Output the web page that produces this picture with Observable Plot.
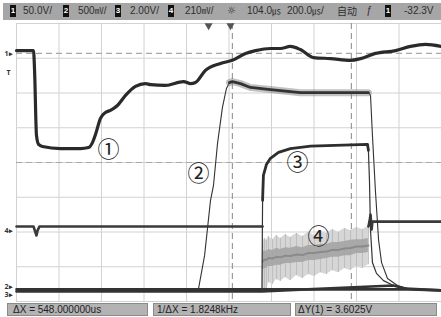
<!DOCTYPE html>
<html><head><meta charset="utf-8">
<script src="https://cdn.jsdelivr.net/npm/d3@7"></script>
<script src="https://cdn.jsdelivr.net/npm/@observablehq/plot@0.6"></script>
<style>
body{margin:0;background:#fff;}
#wrap{position:relative;width:441px;height:317px;overflow:hidden;font-family:"Liberation Sans",Arial,sans-serif;}
#chart{position:absolute;left:0;top:0;}
.topbar{position:absolute;left:3px;top:3px;width:438px;height:17px;background:#a6a6a6;}
.t{position:absolute;top:5px;font-size:10px;line-height:11px;color:#2e2e2e;white-space:nowrap;}
.u{font-family:"Noto Sans CJK SC";font-size:9px;}
.badge{position:absolute;top:5px;width:6px;height:12px;background:#111;color:#fff;font-size:8px;line-height:12px;text-align:center;font-weight:bold;}
.box{position:absolute;top:303px;height:13px;background:#b3b3b3;border:1px solid #8a8a8a;box-sizing:border-box;}
.bt{position:absolute;top:304px;font-size:10px;line-height:12px;color:#222;white-space:nowrap;}
</style></head>
<body>
<div id="wrap">
  <div id="chart"></div>
  <div class="topbar"></div>
  <div class="badge" style="left:10px">1</div><div class="t" style="left:23px">50.0V/</div>
  <div class="badge" style="left:63px">2</div><div class="t" style="left:78px">500<span class="u">㎷</span>/</div>
  <div class="badge" style="left:115px">3</div><div class="t" style="left:130px">2.00V/</div>
  <div class="badge" style="left:168px">4</div><div class="t" style="left:185px">210<span class="u">㎷</span>/</div>
  <div class="t" style="left:227px;font-family:'DejaVu Sans'">☼</div>
  <div class="t" style="left:247px">104.0<span class="u">㎲</span></div>
  <div class="t" style="left:287px">200.0<span class="u">㎲</span>/</div>
  <div class="t" style="left:337px;font-family:'Noto Sans CJK SC'">自动</div>
  <div class="t" style="left:366px;font-style:italic">ƒ</div>
  <div class="badge" style="left:385px">1</div><div class="t" style="left:404px">-32.3V</div>
  <div class="box" style="left:7px;width:141px"></div>
  <div class="box" style="left:153px;width:138px"></div>
  <div class="box" style="left:295px;width:142px"></div>
  <div class="bt" style="left:13px">ΔX = 548.000000us</div>
  <div class="bt" style="left:157px">1/ΔX = 1.8248kHz</div>
  <div class="bt" style="left:298px">ΔY(1) = 3.6025V</div>
</div>
<script>
// time in µs (200 µs/div), value in screen divisions (-4..4)
const gridT = [0,200,400,600,800,1000,1200,1400,1600,1800,2000];
const gridV = [-4,-3,-2,-1,0,1,2,3,4];
const cursorT = [1016, 1576];
const cursorV = [3.14, 0];

const ch1T = [0,80,85,94,104,122,207,301,339,358,372,395,419,442,475,513,560,607,631,701,786,819,842,889,960,1016,1078,1125,1195,1242,1289,1336,1398,1478,1572,1619,1689,1784,1854,1925,2000];
const ch1V = [3.22,3.22,2.65,0.78,0.52,0.46,0.40,0.40,0.43,0.58,0.81,1.27,1.44,1.50,1.64,1.93,2.19,2.27,2.24,2.22,2.33,2.27,2.30,2.65,2.85,2.94,3.14,3.22,3.28,3.28,3.34,3.25,3.02,2.99,2.94,2.99,3.14,3.22,3.34,3.40,3.34];

const ch2T = [0,856,885,913,927,946,969,988,1002,1016,1054,1101,1195,1336,1478,1656,1666,1675,1689,1704,1718,1746,1793,1854,2000];
const ch2V = [-3.65,-3.65,-2.68,-1.09,-0.66,0.55,1.58,2.13,2.30,2.33,2.27,2.16,2.10,2.01,2.01,2.01,1.93,0.78,-0.81,-2.24,-2.88,-3.34,-3.54,-3.65,-3.68];

const ch3T = [0,1155,1158,1162,1176,1195,1233,1289,1384,1652,1656,1661,1666,1675,1694,1727,1774,1831,2000];
const ch3V = [-3.71,-3.71,-1.09,-0.37,-0.06,0.12,0.29,0.40,0.47,0.52,0.35,-0.52,-1.96,-2.88,-3.19,-3.40,-3.54,-3.63,-3.68];

const ch4aT = [0,80,89,94,99,108,1158];
const ch4aV = [-1.84,-1.84,-2.01,-2.10,-1.96,-1.84,-1.84];
const ch4bT = [1656,1661,1666,1671,1675,2000];
const ch4bV = [-1.84,-1.70,-1.50,-1.93,-1.70,-1.70];

const noiseT = [1158,1167,1176,1186,1205,1224,1242,1266,1289,1318,1346,1374,1402,1431,1459,1487,1515,1544,1572,1600,1628,1656];
const noiseHi = [-2.30,-2.19,-2.24,-2.13,-2.22,-2.10,-2.19,-2.07,-2.16,-2.04,-2.13,-2.01,-2.10,-1.99,-2.04,-1.93,-2.01,-1.90,-1.96,-1.87,-1.93,-1.84];
const noiseLo = [-3.74,-3.63,-3.68,-3.45,-3.51,-3.37,-3.42,-3.31,-3.40,-3.25,-3.34,-3.22,-3.28,-3.17,-3.22,-3.11,-3.17,-3.05,-3.11,-2.99,-3.05,-2.94];
const coreHi = [-2.59,-2.53,-2.56,-2.50,-2.53,-2.47,-2.50,-2.45,-2.47,-2.42,-2.45,-2.39,-2.39,-2.36,-2.36,-2.30,-2.30,-2.27,-2.24,-2.22,-2.22,-2.19];
const coreLo = [-3.11,-3.05,-3.05,-2.99,-2.99,-2.96,-2.96,-2.91,-2.91,-2.88,-2.88,-2.82,-2.82,-2.79,-2.76,-2.73,-2.73,-2.68,-2.68,-2.62,-2.62,-2.59];

const markLabels = ["1▸","T","4▸","2▸","3▸"];
const markV = [3.14, 2.59, -1.96, -3.57, -3.80];

const calloutText = ["①","②","③","④"];
const calloutT = [433, 856, 1322, 1421];
const calloutV = [0.35, -0.32, 0.0, -2.13];

const trigT = [904, 1007];

const tab = (T, V) => T.map((t, i) => ({t, v: V[i]}));
const ch1 = tab(ch1T, ch1V), ch2 = tab(ch2T, ch2V), ch3 = tab(ch3T, ch3V);
const ch4a = tab(ch4aT, ch4aV), ch4b = tab(ch4bT, ch4bV);
const noise = noiseT.map((t, i) => ({t, hi: noiseHi[i], lo: noiseLo[i], chi: coreHi[i], clo: coreLo[i]}));
const marks = markLabels.map((s, i) => ({s, v: markV[i]}));
const callouts = calloutText.map((s, i) => ({s, t: calloutT[i], v: calloutV[i]}));

const chart = Plot.plot({
  width: 441, height: 317,
  marginLeft: 16, marginRight: 0, marginTop: 23, marginBottom: 16,
  style: {background: "transparent", overflow: "visible"},
  x: {domain: [0, 2000], axis: null},
  y: {domain: [-4, 4], axis: null},
  marks: [
    Plot.ruleX(gridT, {stroke: "#d2d2d2", strokeWidth: 1}),
    Plot.ruleY(gridV, {stroke: "#d2d2d2", strokeWidth: 1}),
    Plot.ruleX(cursorT, {stroke: "#9a9a9a", strokeDasharray: "6,4", strokeWidth: 1.2}),
    Plot.ruleY(cursorV, {stroke: "#a8a8a8", strokeDasharray: "6,4", strokeWidth: 1.2}),
    Plot.areaY(noise, {x: "t", y1: "lo", y2: "hi", fill: "#d6d6d6"}),
    Plot.ruleX(noise, {x: "t", y1: "lo", y2: "hi", stroke: "#bdbdbd", strokeWidth: 1}),
    Plot.areaY(noise, {x: "t", y1: "clo", y2: "chi", fill: "#a4a4a4", fillOpacity: 0.9}),
    Plot.line(noise, {x: "t", y: d => (d.clo + d.chi) / 2, stroke: "#8a8a8a", strokeWidth: 2}),
    Plot.line(ch4a, {x: "t", y: "v", stroke: "#3a3a3a", strokeWidth: 2.6}),
    Plot.line(ch4b, {x: "t", y: "v", stroke: "#3a3a3a", strokeWidth: 2.6}),
    Plot.line(ch3, {x: "t", y: "v", stroke: "#333", strokeWidth: 1.2}),
    Plot.line(ch3.filter(d => d.t >= 1158 && d.t <= 1656), {x: "t", y: "v", stroke: "#2e2e2e", strokeWidth: 2.8}),
    Plot.line(ch3.filter(d => d.t <= 1155 || d.t >= 1774), {x: "t", y: "v", stroke: "#333", strokeWidth: 2.6}),
    Plot.line(ch2, {x: "t", y: "v", stroke: "#333", strokeWidth: 1.1}),
    Plot.line(ch2.filter(d => d.t >= 1002 && d.t <= 1656), {x: "t", y: "v", stroke: "#777", strokeWidth: 7, strokeOpacity: 0.45}),
    Plot.line(ch2.filter(d => d.t >= 1002 && d.t <= 1656), {x: "t", y: "v", stroke: "#333", strokeWidth: 2.8}),
    Plot.line(ch2.filter(d => d.t <= 856 || d.t >= 1854), {x: "t", y: "v", stroke: "#333", strokeWidth: 2.6}),
    Plot.line(ch1, {x: "t", y: "v", stroke: "#2a2a2a", strokeWidth: 3.2, curve: "monotone-x"}),
    Plot.text(marks, {x: () => 0, y: "v", text: "s", dx: -8, fontSize: 7, fill: "#333", fontWeight: "bold"}),
    Plot.text(callouts, {x: "t", y: "v", text: "s", fontSize: 22, fill: "#222", fontFamily: "Noto Sans CJK SC"}),
    Plot.dot(trigT, {x: d => d, y: () => 4, dy: 2, symbol: "triangle", r: 3, rotate: 180, fill: "#555", stroke: "none"})
  ]
});
document.getElementById("chart").appendChild(chart);
</script>
</body></html>
